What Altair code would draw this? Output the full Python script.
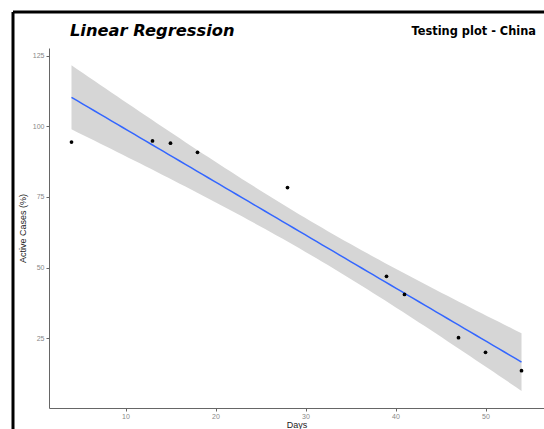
import altair as alt
import numpy as np
import pandas as pd

days = [4, 13, 15, 18, 28, 39, 41, 47, 50, 54]
active = [94.4, 94.8, 94.0, 90.8, 78.3, 46.9, 40.5, 25.2, 20.0, 13.5]
x_ticks = [10, 20, 30, 40, 50]
y_ticks = [25, 50, 75, 100, 125]

# linear fit with 95% confidence band (like ggplot geom_smooth(method="lm"))
xa = np.array(days, float)
ya = np.array(active, float)
n = len(xa)
b1, b0 = np.polyfit(xa, ya, 1)
resid = ya - (b0 + b1 * xa)
s = np.sqrt(np.sum(resid ** 2) / (n - 2))
sxx = np.sum((xa - xa.mean()) ** 2)
t = 2.306  # t(0.975, df=8)
xg = np.linspace(xa.min(), xa.max(), 80)
fit = b0 + b1 * xg
se = s * np.sqrt(1.0 / n + (xg - xa.mean()) ** 2 / sxx)
band = pd.DataFrame({"x": xg, "fit": fit, "lo": fit - t * se, "hi": fit + t * se})
pts = pd.DataFrame({"x": days, "y": active})
one = pd.DataFrame({"k": [0]})

xscale = alt.Scale(domain=[1.5, 56.5], nice=False, zero=False)
yscale = alt.Scale(domain=[0.3, 127.7], nice=False, zero=False)

xaxis = alt.Axis(values=x_ticks, title="Days", grid=False, domainColor="#666666",
                 tickColor="#666666", tickSize=3, labelColor="#888888", labelFontSize=7,
                 labelFont="Liberation Sans", titleFont="Liberation Sans", titleFontSize=9,
                 titleFontWeight="normal", titleColor="#222222", labelPadding=1, titlePadding=1)
yaxis = alt.Axis(values=y_ticks, title="Active Cases (%)", grid=False, domainColor="#666666",
                 tickColor="#666666", tickSize=3, labelColor="#888888", labelFontSize=7,
                 labelFont="Liberation Sans", titleFont="Liberation Sans", titleFontSize=9,
                 titleFontWeight="normal", titleColor="#222222", labelPadding=2, titlePadding=5)

ribbon = alt.Chart(band).mark_area(color="#d6d6d6", opacity=1).encode(
    x=alt.X("x:Q", scale=xscale, axis=xaxis),
    y=alt.Y("lo:Q", scale=yscale, axis=yaxis),
    y2="hi:Q",
)
line = alt.Chart(band).mark_line(color="#3366ff", strokeWidth=1.5).encode(
    x=alt.X("x:Q", scale=xscale), y=alt.Y("fit:Q", scale=yscale)
)
points = alt.Chart(pts).mark_circle(color="black", size=14, opacity=1).encode(
    x=alt.X("x:Q", scale=xscale), y=alt.Y("y:Q", scale=yscale)
)

frame_top = alt.Chart(one).mark_rule(color="black", strokeWidth=3).encode(
    x=alt.value(-36), x2=alt.value(500), y=alt.value(-36)
)
frame_left = alt.Chart(one).mark_rule(color="black", strokeWidth=3).encode(
    x=alt.value(-36), y=alt.value(-36), y2=alt.value(390)
)
title_left = alt.Chart(one).mark_text(
    text="Linear Regression", font="DejaVu Sans", fontSize=16.3, fontWeight="bold",
    fontStyle="italic", align="left", baseline="alphabetic", color="black"
).encode(x=alt.value(21), y=alt.value(-12))
title_right = alt.Chart(one).mark_text(
    text="Testing plot - China", font="DejaVu Sans", fontSize=11.4, fontWeight="bold",
    align="right", baseline="alphabetic", color="black"
).encode(x=alt.value(487), y=alt.value(-13))

chart = alt.layer(ribbon, line, points, frame_top, frame_left, title_left, title_right).properties(
    width=495, height=360,
    background="white",
    autosize=alt.AutoSizeParams(type="none"),
    padding={"left": 49, "top": 48, "right": 0, "bottom": 21},
).configure_view(strokeWidth=0, stroke=None)

chart.save("out.html", embed_options={"renderer": "svg", "actions": False})
